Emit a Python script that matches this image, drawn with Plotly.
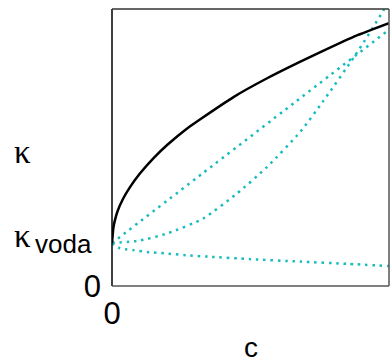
import plotly.graph_objects as go

# --- data ---
kappa_voda = 0.155

solid_x = [0, 0.005, 0.01, 0.02, 0.04, 0.065, 0.1, 0.15, 0.2, 0.27, 0.32, 0.44, 0.56, 0.68, 0.76, 0.88, 1.0]
solid_y = [0.155, 0.21, 0.235, 0.27, 0.315, 0.357, 0.405, 0.462, 0.51, 0.568, 0.603, 0.683, 0.750, 0.810, 0.848, 0.903, 0.949]

lin_x = [0, 0.33, 0.66, 1.0]
lin_y = [0.155, 0.409, 0.663, 0.925]

quad_x = [0, 0.1, 0.2, 0.33, 0.45, 0.56, 0.68, 0.76, 0.88, 0.98, 1.0]
quad_y = [0.155, 0.164, 0.19, 0.244, 0.333, 0.43, 0.557, 0.664, 0.836, 0.995, 1.035]

low_x = [0, 0.025, 0.054, 0.079, 0.134, 0.188, 0.267, 0.347, 0.5, 0.679, 0.85, 1.0]
low_y = [0.155, 0.138, 0.132, 0.129, 0.122, 0.118, 0.111, 0.106, 0.097, 0.088, 0.080, 0.072]

x_tick_vals = [0]
x_tick_text = ["0"]
y_tick_vals = [0]
y_tick_text = ["0"]
x_title = "c"
kappa_label = "κ"
kappa_sub = "voda"

FONT = "Liberation Sans, Arial, sans-serif"
SERIF = "Liberation Serif, Times New Roman, serif"
TEAL = "#17BCBC"
DOT = "2.5px,4.8px"

fig = go.Figure()
for xs, ys in [(lin_x, lin_y), (quad_x, quad_y), (low_x, low_y)]:
    fig.add_trace(go.Scatter(x=xs, y=ys, mode="lines",
                             line=dict(color=TEAL, width=2.5, dash=DOT, shape="spline", smoothing=0.6),
                             hoverinfo="skip", showlegend=False))
fig.add_trace(go.Scatter(x=solid_x, y=solid_y, mode="lines",
                         line=dict(color="black", width=2.5, shape="spline", smoothing=0.5),
                         hoverinfo="skip", showlegend=False))

fig.update_layout(
    width=390, height=363,
    margin=dict(l=112, r=1, t=9, b=77),
    paper_bgcolor="white", plot_bgcolor="white",
    font=dict(family=FONT, size=30, color="black"),
    xaxis=dict(range=[0, 1], showgrid=False, zeroline=False, showline=False,
               tickvals=x_tick_vals, ticktext=x_tick_text, ticks="",
               ticklabelstandoff=6, tickfont=dict(size=31)),
    yaxis=dict(range=[0, 1], showgrid=False, zeroline=False, showline=False,
               tickvals=y_tick_vals, ticktext=y_tick_text, ticks="",
               ticklabelstandoff=10, tickfont=dict(size=31)),
    shapes=[
        dict(type="line", xref="paper", yref="paper", x0=0, x1=0, y0=0, y1=1, line=dict(color="black", width=1.5)),
        dict(type="line", xref="paper", yref="paper", x0=0, x1=1, y0=1, y1=1, line=dict(color="#333", width=1.5)),
        dict(type="line", xref="paper", yref="paper", x0=1, x1=1, y0=0, y1=1, line=dict(color="#555", width=1.5)),
        dict(type="line", xref="paper", yref="paper", x0=0, x1=1, y0=0, y1=0, line=dict(color="#555", width=1.5)),
    ],
    annotations=[
        dict(text=x_title, xref="paper", yref="paper", x=0.5, y=-0.223, xanchor="center", yanchor="middle",
             showarrow=False, font=dict(size=28)),
        dict(text=kappa_label, xref="paper", yref="paper", x=-0.36, y=0.482, xanchor="left", yanchor="middle",
             showarrow=False, font=dict(size=33, family=SERIF)),
        dict(text=kappa_label, xref="paper", yref="paper", x=-0.36, y=kappa_voda + 0.024, xanchor="left", yanchor="middle",
             showarrow=False, font=dict(size=33, family=SERIF)),
        dict(text=kappa_sub, xref="paper", yref="paper", x=-0.285, y=kappa_voda - 0.003, xanchor="left", yanchor="middle",
             showarrow=False, font=dict(size=26)),
    ],
)

# remove the browser's default 8px body margin so the figure fills the window exactly
fig.write_html("out.html", config={"displayModeBar": False},
               post_script="document.body.style.margin='0';document.body.style.overflow='hidden';")
